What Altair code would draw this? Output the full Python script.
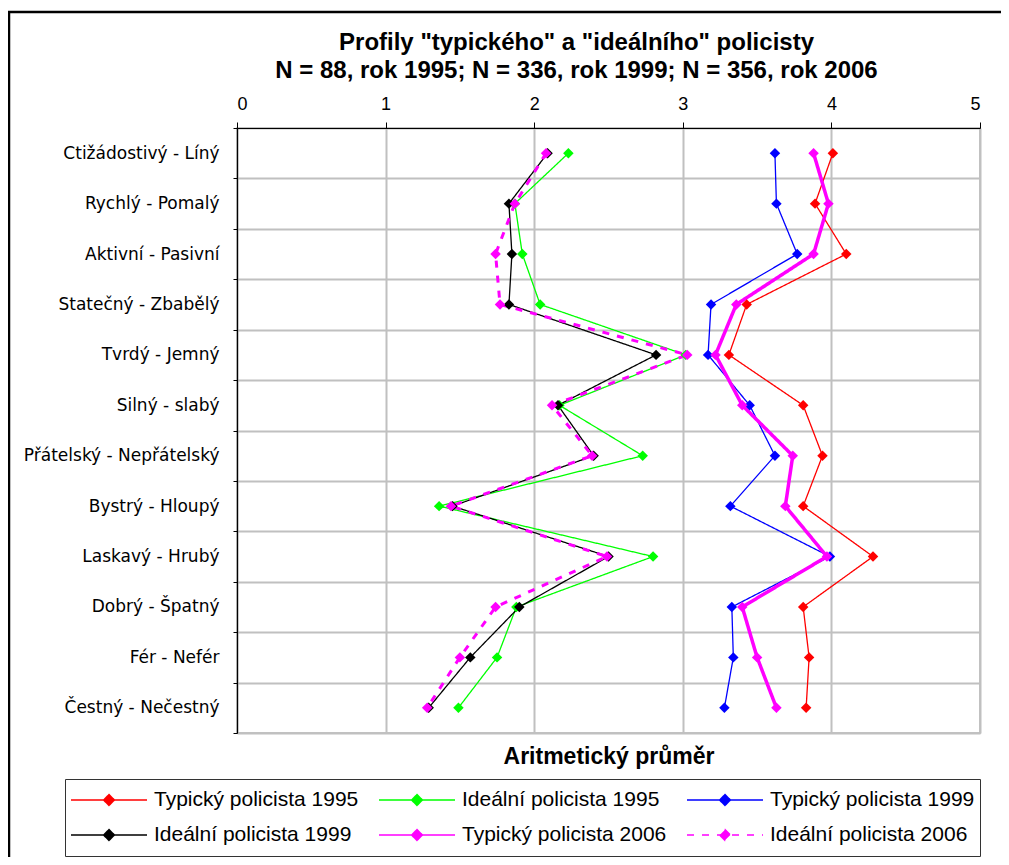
import altair as alt
import pandas as pd

categories = [
    "Ctižádostivý - Líný",
    "Rychlý - Pomalý",
    "Aktivní - Pasivní",
    "Statečný - Zbabělý",
    "Tvrdý - Jemný",
    "Silný - slabý",
    "Přátelský - Nepřátelský",
    "Bystrý - Hloupý",
    "Laskavý - Hrubý",
    "Dobrý - Špatný",
    "Fér - Nefér",
    "Čestný - Nečestný",
]

series_names = [
    "Typický policista 1995",
    "Ideální policista 1995",
    "Typický policista 1999",
    "Ideální policista 1999",
    "Typický policista 2006",
    "Ideální policista 2006",
]

typicky_1995 = [4.01, 3.89, 4.10, 3.43, 3.31, 3.81, 3.94, 3.81, 4.28, 3.81, 3.85, 3.83]
idealni_1995 = [2.23, 1.87, 1.92, 2.04, 3.02, 2.17, 2.73, 1.36, 2.80, 1.88, 1.75, 1.49]
typicky_1999 = [3.62, 3.63, 3.77, 3.19, 3.17, 3.45, 3.62, 3.32, 3.99, 3.33, 3.34, 3.28]
idealni_1999 = [2.09, 1.83, 1.85, 1.83, 2.82, 2.16, 2.40, 1.45, 2.50, 1.90, 1.57, 1.29]
typicky_2006 = [3.88, 3.98, 3.88, 3.36, 3.22, 3.40, 3.74, 3.69, 3.97, 3.40, 3.50, 3.63]
idealni_2006 = [2.08, 1.87, 1.74, 1.77, 3.03, 2.12, 2.39, 1.44, 2.49, 1.74, 1.50, 1.28]

x_ticks = [0, 1, 2, 3, 4, 5]

colors = ["#FF0000", "#00FF00", "#0000FF", "#000000", "#FF00FF", "#FF00FF"]
dashes = [[1, 0], [1, 0], [1, 0], [1, 0], [1, 0], [7, 8]]
widths = [1.3, 1.3, 1.3, 1.3, 3.5, 3.0]

all_values = [typicky_1995, idealni_1995, typicky_1999, idealni_1999, typicky_2006, idealni_2006]
rows = []
for name, vals, w in zip(series_names, all_values, widths):
    for i, (cat, v) in enumerate(zip(categories, vals)):
        rows.append({"series": name, "cat": cat, "idx": i, "value": v, "lw": w})
df = pd.DataFrame(rows)

SYMBOL = "M-1,0L1,0M0,-0.14L0.14,0L0,0.14L-0.14,0Z"

x_scale = alt.Scale(domain=[0, 5], nice=False, zero=False)
y_enc = alt.Y(
    "cat:N",
    sort=categories,
    scale=alt.Scale(type="band", paddingInner=0, paddingOuter=0),
    axis=alt.Axis(
        title=None,
        tickBand="extent",
        labelFont="DejaVu Sans",
        labelFontSize=17,
        labelPadding=14,
        tickSize=4,
        labelLimit=300,
        grid=True,
    ),
)

frame = alt.Chart(alt.Data(values=[{"a": 1}])).mark_rect(
    fill="transparent", stroke="black", strokeWidth=2.5
).encode(
    x=alt.value(-228), x2=alt.value(3000), y=alt.value(-116), y2=alt.value(3000)
)

lines = alt.Chart(df).mark_line().encode(
    x=alt.X(
        "value:Q",
        scale=x_scale,
        axis=alt.Axis(
            orient="top",
            values=x_ticks,
            format="d",
            title=None,
            labelFontSize=18,
            labelPadding=9,
            tickSize=6,
            grid=True,
        ),
    ),
    y=y_enc,
    stroke=alt.Stroke(
        "series:N",
        scale=alt.Scale(domain=series_names, range=colors),
        legend=alt.Legend(title=None, symbolType=SYMBOL, direction="horizontal"),
    ),
    strokeDash=alt.StrokeDash(
        "series:N",
        scale=alt.Scale(domain=series_names, range=dashes),
        legend=alt.Legend(title=None, symbolType=SYMBOL, direction="horizontal"),
    ),
    strokeWidth=alt.StrokeWidth("lw:Q", scale=None),
    order="idx:Q",
)

points = alt.Chart(df).mark_point(
    shape="diamond", filled=True, size=110, opacity=1
).encode(
    x=alt.X(
        "value:Q",
        scale=x_scale,
        axis=alt.Axis(
            orient="bottom",
            labels=False,
            ticks=False,
            domain=False,
            grid=False,
            title="Aritmetický průměr",
            titleFontSize=23,
            titleFontWeight="bold",
            titlePadding=12,
        ),
    ),
    y=y_enc,
    fill=alt.Fill(
        "series:N",
        scale=alt.Scale(domain=series_names, range=colors),
        legend=alt.Legend(title=None, symbolType=SYMBOL, direction="horizontal"),
    ),
)

chart = (
    alt.layer(frame, lines, points)
    .resolve_axis(x="independent")
    .properties(
        width=743,
        height=605,
        padding={"left": 229, "top": 120, "right": 21, "bottom": 124},
        autosize=alt.AutoSizeParams(type="none"),
        title=alt.TitleParams(
            text=[
                'Profily "typického" a "ideálního" policisty',
                "N = 88, rok 1995; N = 336, rok 1999; N = 356, rok 2006",
            ],
            font="Liberation Sans",
            fontSize=24,
            fontWeight="bold",
            anchor="middle",
            frame="group",
            lineHeight=28,
            offset=8,
            dy=80,
            dx=-32,
            color="black",
        ),
    )
    .configure(font="Liberation Sans", background="white")
    .configure_view(stroke="#b0b0b0", strokeWidth=1.5)
    .configure_axis(
        gridColor="#c0c0c0",
        gridWidth=2,
        domainColor="black",
        domainWidth=1.2,
        tickColor="black",
        labelColor="black",
        titleColor="black",
        labelFont="Liberation Sans",
        titleFont="Liberation Sans",
    )
    .configure_legend(
        orient="none",
        direction="horizontal",
        legendX=-172,
        legendY=651,
        columns=3,
        columnPadding=19,
        rowPadding=3,
        clipHeight=32,
        symbolSize=5776,
        symbolStrokeWidth=1.6,
        labelFont="Liberation Sans",
        labelFontSize=21,
        labelColor="black",
        labelOffset=6,
        labelLimit=400,
        strokeColor="#333333",
        padding=5,
    )
)

chart.save("out.html", embed_options={"renderer": "svg", "actions": False})
